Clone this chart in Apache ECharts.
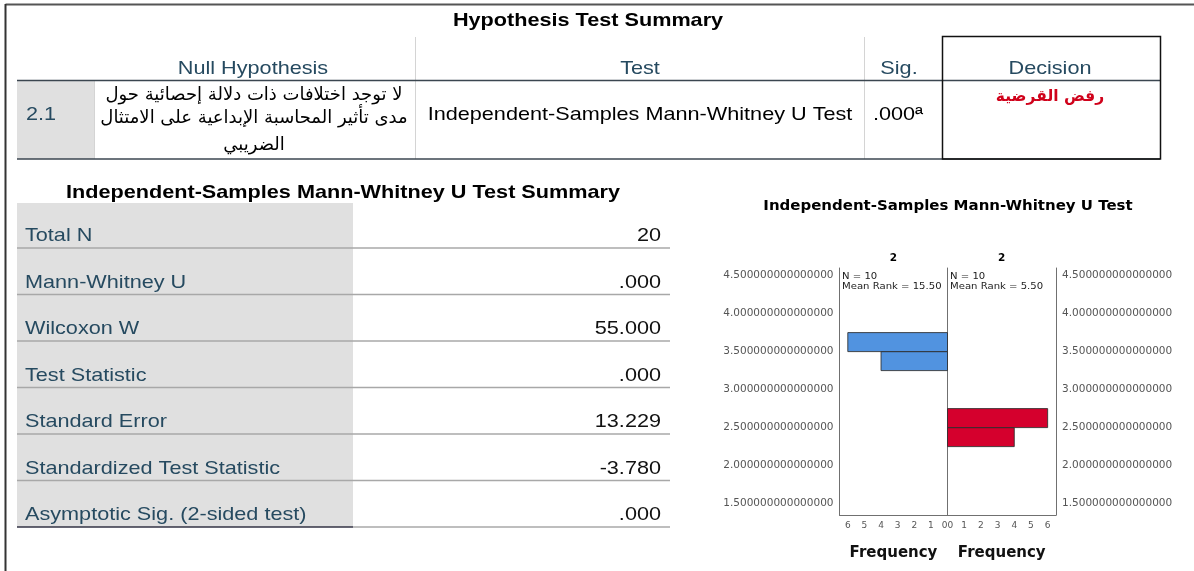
<!DOCTYPE html>
<html>
<head>
<meta charset="utf-8">
<script src="https://cdn.jsdelivr.net/npm/echarts@6/dist/echarts.min.js"></script>
<style>
  html, body { margin: 0; padding: 0; background: #fff; }
  #main { width: 1194px; height: 571px; }
</style>
</head>
<body>
<div id="main"></div>
<script>
// hypothesis table
var hypHeaders = ['Null Hypothesis', 'Test', 'Sig.', 'Decision'];
var hypRowId = '2.1';
var hypNull = ['لا توجد اختلافات ذات دلالة إحصائية حول', 'مدى تأثير المحاسبة الإبداعية على الامتثال', 'الضريبي'];
var hypTest = 'Independent-Samples Mann-Whitney U Test';
var hypSig = '.000ª';
var hypDecision = 'رفض القرضية';

// summary table
var sumLabels = ['Total N', 'Mann-Whitney U', 'Wilcoxon W', 'Test Statistic', 'Standard Error', 'Standardized Test Statistic', 'Asymptotic Sig. (2-sided test)'];
var sumValues = ['20', '.000', '55.000', '.000', '13.229', '-3.780', '.000'];

// histogram
var binWidth = 0.25;
var leftBins = [3.25, 3.5];
var leftFreq = [4, 6];
var rightBins = [2.25, 2.5];
var rightFreq = [4, 6];
var groupNames = ['2', '2'];
var groupInfo = [['N = 10', 'Mean Rank = 15.50'], ['N = 10', 'Mean Rank = 5.50']];
var yTicks = [1.5, 2, 2.5, 3, 3.5, 4, 4.5];
var freqTicks = [0, 1, 2, 3, 4, 5, 6];

var ARIAL = '"Liberation Sans", Arial, sans-serif';
var DEJAVU = '"DejaVu Sans", Verdana, sans-serif';
var BLUE_TXT = '#264a60';

function txt(x, y, s, o) {
    o = o || {};
    var align = o.align || 'center';
    return {
        type: 'text', x: x, y: y, z: 10,
        scaleX: o.sx == null ? 1.17 : o.sx,
        style: {
            text: s,
            fill: o.color || '#000',
            font: (o.bold ? 'bold ' : '') + (o.size || 18.5) + 'px ' + (o.family || ARIAL),
            align: align, textAlign: align,
            verticalAlign: 'middle', textVerticalAlign: 'middle'
        }
    };
}
function line(x1, y1, x2, y2, color, w) {
    return { type: 'line', z: 5, shape: { x1: x1, y1: y1, x2: x2, y2: y2 }, style: { stroke: color, lineWidth: w || 1 } };
}
function box(x, y, w, h, fill) {
    return { type: 'rect', z: 1, shape: { x: x, y: y, width: w, height: h }, style: { fill: fill } };
}

var g = [];
// frame
g.push(line(5.5, 4.5, 1194, 4.5, '#555', 2));
g.push(line(5.5, 4, 5.5, 571, '#333', 2));

// top table
g.push(txt(588, 21, 'Hypothesis Test Summary', { bold: true }));
var hx = [253, 640, 899, 1050];
hypHeaders.forEach(function (h, i) { g.push(txt(hx[i], 69, h, { color: BLUE_TXT })); });
g.push(box(17, 81, 77, 78, '#e0e0e0'));
g.push(line(415.5, 37, 415.5, 159, '#d4d4d4'));
g.push(line(864.5, 37, 864.5, 159, '#d4d4d4'));
g.push(line(94.5, 81, 94.5, 159, '#d4d4d4'));
g.push(line(17, 80.5, 1160, 80.5, '#3b4650', 1.5));
g.push(line(17, 159, 1160, 159, '#3b4650', 1.5));
g.push({ type: 'rect', z: 6, shape: { x: 942.5, y: 36.5, width: 218, height: 122.5 }, style: { fill: null, stroke: '#111', lineWidth: 1.5 } });
g.push(txt(26, 115, hypRowId, { align: 'left', color: BLUE_TXT }));
var arY = [95, 118, 145];
hypNull.forEach(function (s, i) { g.push(txt(254, arY[i], s, { family: DEJAVU, size: 18, sx: 1 })); });
g.push(txt(640, 115, hypTest));
g.push(txt(898, 115, hypSig));
g.push(txt(1050, 97, hypDecision, { family: DEJAVU, size: 15.5, sx: 1, bold: true, color: '#d0021b' }));

// summary table
g.push(txt(343, 193, 'Independent-Samples Mann-Whitney U Test Summary', { bold: true }));
g.push(box(17, 203, 336, 324, '#e0e0e0'));
sumLabels.forEach(function (s, i) {
    var yb = 248 + i * 46.5;
    g.push(txt(25, yb - 12, s, { align: 'left', color: BLUE_TXT }));
    g.push(txt(661, yb - 12, sumValues[i], { align: 'right', color: '#111' }));
    var last = i === sumLabels.length - 1;
    g.push(line(17, yb, 353, yb, last ? '#334' : '#a8a8a8', 1.5));
    g.push(line(353, yb, 670, yb, '#a8a8a8', 1.5));
});

// chart annotations
g.push(txt(948, 206, 'Independent-Samples Mann-Whitney U Test', { family: DEJAVU, size: 13.5, bold: true, sx: 1.11 }));
g.push(txt(893.5, 258, groupNames[0], { family: DEJAVU, size: 10.5, bold: true, sx: 1 }));
g.push(txt(1001.75, 258, groupNames[1], { family: DEJAVU, size: 10.5, bold: true, sx: 1 }));
g.push({ type: 'text', x: 842, y: 272, z: 10, scaleX: 1.12, style: { text: groupInfo[0].join('\n'), font: '9px ' + DEJAVU, fill: '#222', lineHeight: 10 } });
g.push({ type: 'text', x: 950, y: 272, z: 10, scaleX: 1.12, style: { text: groupInfo[1].join('\n'), font: '9px ' + DEJAVU, fill: '#222', lineHeight: 10 } });

function histItem(color) {
    return function (params, api) {
        var lo = api.value(0), hi = api.value(1), f = api.value(2);
        var a = api.coord([0, hi]);
        var b = api.coord([f, lo]);
        return {
            type: 'rect',
            shape: { x: Math.min(a[0], b[0]), y: a[1], width: Math.abs(b[0] - a[0]), height: b[1] - a[1] },
            style: { fill: color, stroke: 'rgba(45,45,45,0.85)', lineWidth: 1 }
        };
    };
}

var axisLineStyle = { show: true, onZero: false, lineStyle: { color: '#707070', width: 1 } };
function freqAxis(idx, inverse) {
    return {
        type: 'value', gridIndex: idx, min: 0, max: 6.5, interval: 1, inverse: inverse,
        axisLine: axisLineStyle, axisTick: { show: false }, splitLine: { show: false },
        axisLabel: { customValues: freqTicks, fontSize: 9, fontFamily: DEJAVU, color: '#555', margin: 6,
                     alignMinLabel: inverse ? 'right' : 'left' },
        name: 'Frequency', nameLocation: 'middle', nameGap: 31,
        nameTextStyle: { fontFamily: DEJAVU, fontWeight: 'bold', fontSize: 15, color: '#111' }
    };
}
function yAx(idx, pos, labels, showLine) {
    return {
        type: 'value', gridIndex: idx, position: pos, min: 1.35, max: 4.6,
        axisLine: showLine ? axisLineStyle : { show: false, onZero: false },
        axisTick: { show: false }, splitLine: { show: false },
        axisLabel: labels ? {
            customValues: yTicks, fontSize: 10.5, fontFamily: DEJAVU, color: '#555', margin: 6,
            formatter: function (v) { return Number(v).toFixed(15); }
        } : { show: false }
    };
}

var chart = echarts.init(document.getElementById('main'));
chart.setOption({
    animation: false,
    backgroundColor: '#fff',
    grid: [
        { left: 839.5, top: 268, width: 108, height: 247 },
        { left: 947.5, top: 268, width: 108.5, height: 247 }
    ],
    xAxis: [freqAxis(0, true), freqAxis(1, false)],
    yAxis: [yAx(0, 'left', true, true), yAx(0, 'right', false, true), yAx(1, 'left', false, false), yAx(1, 'right', true, true)],
    series: [
        {
            type: 'custom', xAxisIndex: 0, yAxisIndex: 0,
            renderItem: histItem('#5193e0'),
            encode: { x: 2, y: [0, 1] },
            data: leftBins.map(function (b, i) { return [b, b + binWidth, leftFreq[i]]; })
        },
        {
            type: 'custom', xAxisIndex: 1, yAxisIndex: 3,
            renderItem: histItem('#d5002d'),
            encode: { x: 2, y: [0, 1] },
            data: rightBins.map(function (b, i) { return [b, b + binWidth, rightFreq[i]]; })
        }
    ],
    graphic: g
});
</script>
</body>
</html>
